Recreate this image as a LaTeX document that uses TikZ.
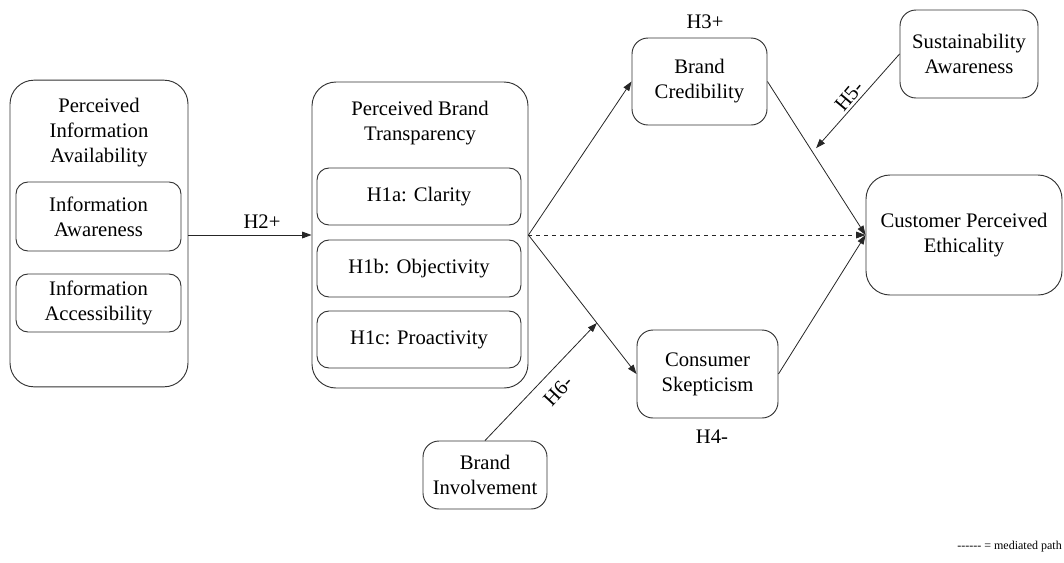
\documentclass[tikz,border=0pt]{standalone}
\usepackage{fontspec}
\setmainfont{Liberation Serif}
\usetikzlibrary{arrows.meta,calc}

\begin{document}
\begin{tikzpicture}[x=0.75pt, y=-0.75pt,
    font=\rmfamily\fontsize{15.5}{18.75}\selectfont,
    every node/.style={inner sep=0pt, align=center},
    outerbox/.style={draw=black!80, line width=0.7pt, rounded corners=18pt},
    innerbox/.style={draw=black!80, line width=0.7pt, rounded corners=9pt},
    factorbox/.style={draw=black!80, line width=0.7pt, rounded corners=12pt},
    path/.style={draw=black!85, line width=0.6pt, -{Triangle[length=7pt,width=5pt]}},
    hypo/.style={font=\rmfamily\fontsize{15.5}{18.75}\selectfont}]
    \useasboundingbox (0,0) rectangle (1064,562);

    % left block
    \node[outerbox, minimum width=133.5pt, minimum height=230pt] (pia) at (99, 233.5) {};
    \node (piaTitle) at (99, 133) {Perceived\\Information\\Availability};
    \node[innerbox, minimum width=123.75pt, minimum height=51.75pt] (aware) at (98.5, 216.5) {Information\\Awareness};
    \node[innerbox, minimum width=123.75pt, minimum height=43.5pt] (access) at (98.5, 303) {Information\\Accessibility};

    % transparency block
    \node[outerbox, minimum width=162pt, minimum height=229.5pt] (pbt) at (420, 235) {};
    \node (pbtTitle) at (420, 123) {Perceived Brand\\Transparency};
    \node[innerbox, minimum width=153pt, minimum height=42.75pt] (clarity) at (419, 196.5) {H1a: Clarity};
    \node[innerbox, minimum width=153pt, minimum height=42.75pt] (object) at (419, 268.5) {H1b: Objectivity};
    \node[innerbox, minimum width=153pt, minimum height=42.75pt] (proact) at (419, 339.5) {H1c: Proactivity};

    % mediators, moderators and outcome
    \node[factorbox, minimum width=101.25pt, minimum height=65.25pt] (cred) at (699.5, 81.5) {Brand\\Credibility};
    \node[factorbox, minimum width=105.75pt, minimum height=66pt] (skep) at (707.5, 374) {Consumer\\Skepticism};
    \node[factorbox, minimum width=103.5pt, minimum height=66pt] (sust) at (969, 54) {Sustainability\\Awareness};
    \node[factorbox, minimum width=93pt, minimum height=51pt] (involve) at (485, 475) {Brand\\Involvement};
    \node[outerbox, minimum width=147pt, minimum height=90pt] (cpe) at (964, 235) {Customer Perceived\\Ethicality};

    % paths
    \draw[path] (pia.east |- pbt.east) -- (pbt.west);
    \draw[path] (pbt.east) -- (cred.west);
    \draw[path] (pbt.east) -- (skep.west);
    \draw[path, dashed] (pbt.east) -- (cpe.west);
    \draw[path] (cred.east) -- (cpe.west);
    \draw[path] (skep.east) -- (cpe.west);
    \coordinate (modCred) at ($(cred.east)!0.46!(cpe.west)$);
    \coordinate (modSkep) at ($(pbt.east)!0.633!(skep.west)$);
    \draw[path, shorten >=4pt] (sust.west) -- (modCred);
    \draw[path] (involve.north) -- (modSkep);

    % hypothesis labels
    \node[hypo] (h2) at (262, 222) {H2+};
    \node[hypo] (h3) at (705, 22) {H3+};
    \node[hypo] (h4) at (712, 437) {H4-};
    \node[hypo, rotate=50] (h5) at (849, 96) {H5-};
    \node[hypo, rotate=47] (h6) at (558, 391) {H6-};

    % legend
    \node[anchor=east, font=\rmfamily\fontsize{9}{11}\selectfont] (legend) at (1062, 547) {-{}-{}-{}-{}-{}- = mediated path};
\end{tikzpicture}
\end{document}
